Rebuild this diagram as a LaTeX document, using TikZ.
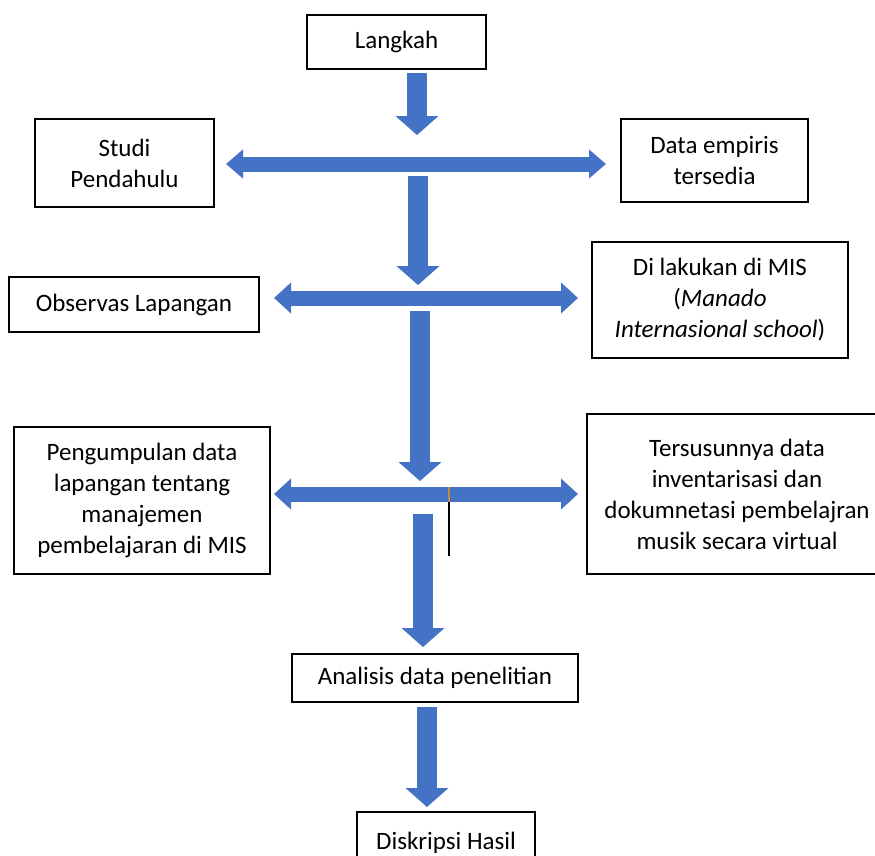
\documentclass[tikz,border=0pt]{standalone}
\usepackage{fontspec}
\setmainfont{Carlito}
\usetikzlibrary{arrows.meta}
\definecolor{arrowblue}{RGB}{68,114,196}
\definecolor{tanline}{RGB}{190,140,70}
\begin{document}
\begin{tikzpicture}[x=1pt,y=-1pt,
  box/.style={draw=black, line width=1.3pt, fill=white, align=center, inner sep=0pt,
    font=\fontsize{25}{31}\selectfont},
  downarrow/.style={draw=arrowblue, line width=20pt, -{Triangle[width=42pt,length=19pt]}},
  hbar/.style={draw=arrowblue, line width=15pt,
    {Triangle[width=#1,length=17pt]}-{Triangle[width=#1,length=17pt]}},
  hbar/.default=30pt,
  thinline/.style={line width=1.3pt}
]
\useasboundingbox (0,0) rectangle (875,855);
\clip (0,0) rectangle (875,855);

% boxes
\node[box, minimum width=179pt, minimum height=54pt] (langkah) at (396.5,42) {Langkah};
\node[box, minimum width=179pt, minimum height=88pt] (studi) at (124.5,163) {Studi\\Pendahulu};
\node[box, minimum width=187pt, minimum height=83pt] (empiris) at (714.5,160.5) {Data empiris\\tersedia};
\node[box, minimum width=250pt, minimum height=55pt] (observas) at (134,304.5) {Observas Lapangan};
\node[box, minimum width=256pt, minimum height=116pt] (mis) at (720,300) {Di lakukan di MIS\\(\textit{Manado}\\\textit{Internasional school})};
\node[box, minimum width=256pt, minimum height=147pt] (kumpul) at (142,500.5) {Pengumpulan data\\lapangan tentang\\manajemen\\pembelajaran di MIS};
\node[box, minimum width=300pt, minimum height=160pt] (susun) at (737,494) {Tersusunnya data\\inventarisasi dan\\dokumnetasi pembelajran\\musik secara virtual};
\node[box, minimum width=286pt, minimum height=48pt] (analisis) at (435,678) {Analisis data penelitian};
\node[box, minimum width=178pt, minimum height=62pt] (hasil) at (446,843) {Diskripsi Hasil};

% arrow end points
\coordinate (d1s) at (417,73);  \coordinate (d1e) at (417,135);
\coordinate (d2s) at (418,176); \coordinate (d2e) at (418,285);
\coordinate (d3s) at (420,311); \coordinate (d3e) at (420,481);
\coordinate (d4s) at (423,514); \coordinate (d4e) at (423,647);
\coordinate (d5s) at (427,707); \coordinate (d5e) at (427,807);
\coordinate (h1l) at (226,164); \coordinate (h1r) at (606,164);
\coordinate (h2l) at (274,298); \coordinate (h2r) at (578,298);
\coordinate (h3l) at (274,494); \coordinate (h3r) at (578,494);
\coordinate (t1) at (449,487); \coordinate (t2) at (449,502); \coordinate (t3) at (449,556);

% block arrows
\draw[downarrow] (d1s) -- (d1e);
\draw[hbar=28pt] (h1l) -- (h1r);
\draw[downarrow] (d2s) -- (d2e);
\draw[hbar] (h2l) -- (h2r);
\draw[downarrow] (d3s) -- (d3e);
\draw[hbar] (h3l) -- (h3r);
\draw[downarrow] (d4s) -- (d4e);
\draw[downarrow] (d5s) -- (d5e);

% thin line
\draw[thinline, tanline] (t1) -- (t2);
\draw[thinline, black] (t2) -- (t3);
\end{tikzpicture}
\end{document}
